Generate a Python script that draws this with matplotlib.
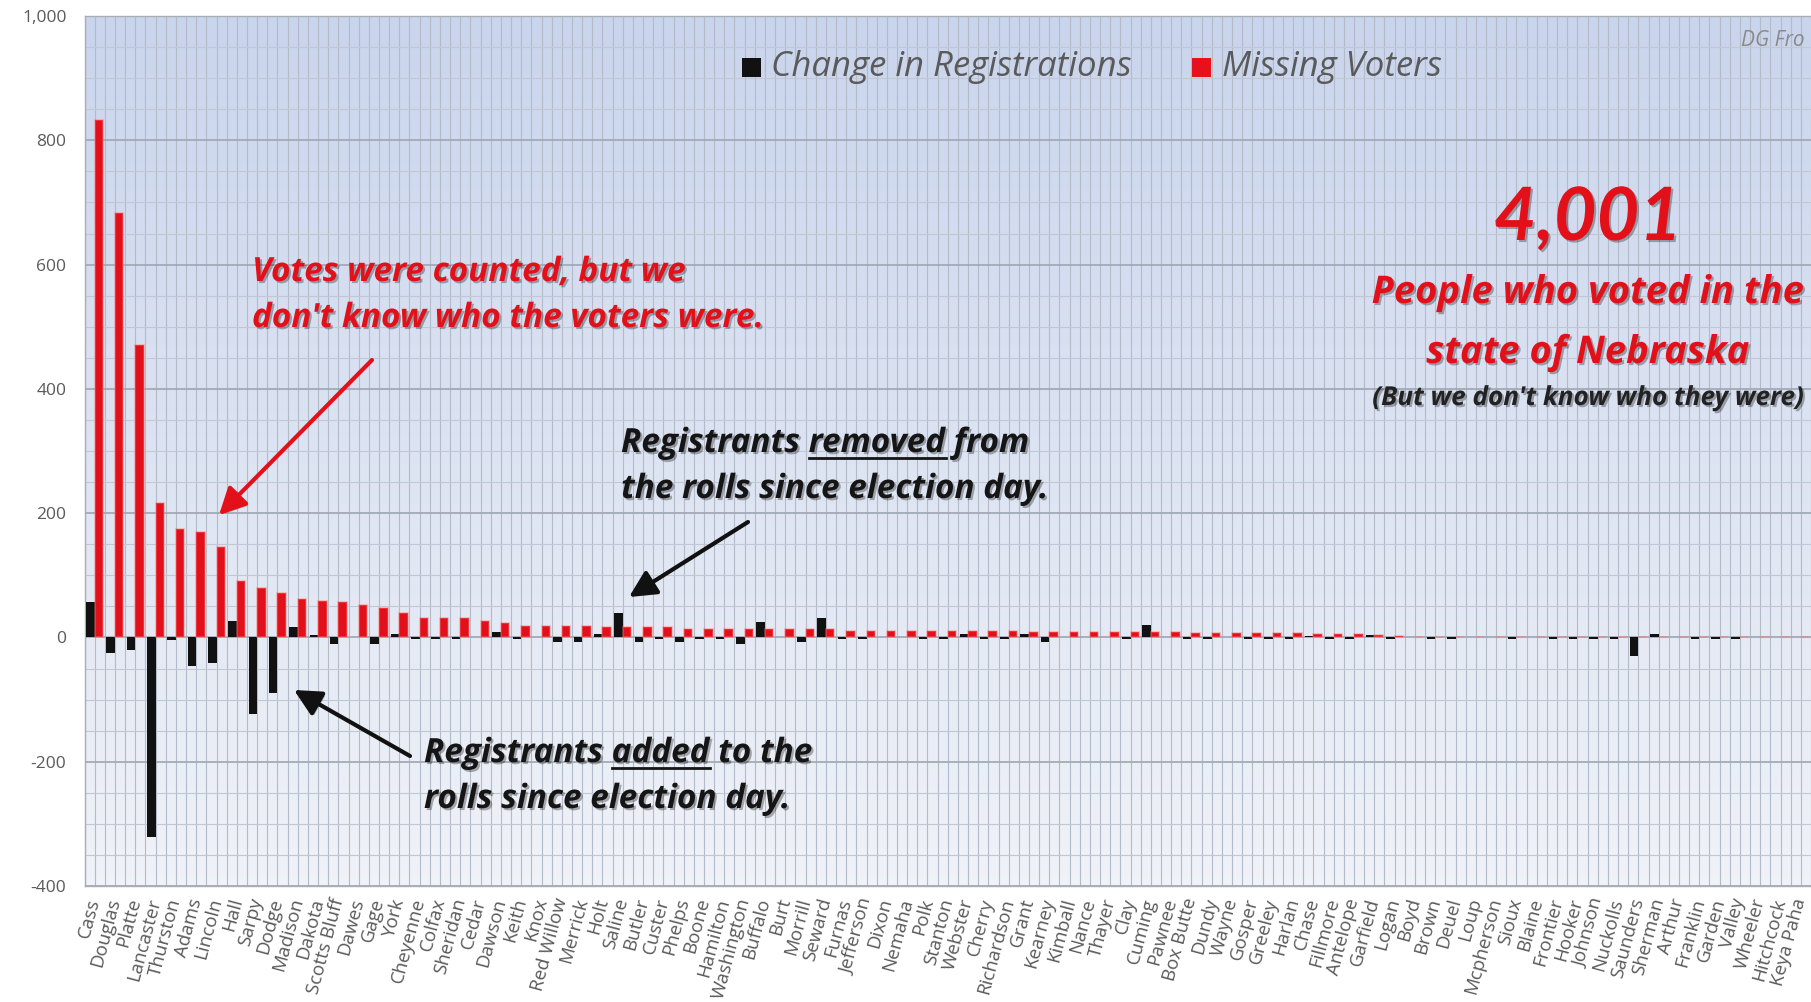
import numpy as np
import matplotlib
matplotlib.use("Agg")
import matplotlib.pyplot as plt
from matplotlib.patches import Rectangle
from matplotlib.lines import Line2D
from matplotlib.ticker import MultipleLocator, FuncFormatter
import matplotlib.patheffects as pe

counties = ["Cass", "Douglas", "Platte", "Lancaster", "Thurston", "Adams", "Lincoln", "Hall", "Sarpy", "Dodge",
            "Madison", "Dakota", "Scotts Bluff", "Dawes", "Gage", "York", "Cheyenne", "Colfax", "Sheridan", "Cedar",
            "Dawson", "Keith", "Knox", "Red Willow", "Merrick", "Holt", "Saline", "Butler", "Custer", "Phelps",
            "Boone", "Hamilton", "Washington", "Buffalo", "Burt", "Morrill", "Seward", "Furnas", "Jefferson", "Dixon",
            "Nemaha", "Polk", "Stanton", "Webster", "Cherry", "Richardson", "Grant", "Kearney", "Kimball", "Nance",
            "Thayer", "Clay", "Cuming", "Pawnee", "Box Butte", "Dundy", "Wayne", "Gosper", "Greeley", "Harlan",
            "Chase", "Fillmore", "Antelope", "Garfield", "Logan", "Boyd", "Brown", "Deuel", "Loup", "Mcpherson",
            "Sioux", "Blaine", "Frontier", "Hooker", "Johnson", "Nuckolls", "Saunders", "Sherman", "Arthur", "Franklin",
            "Garden", "Valley", "Wheeler", "Hitchcock", "Keya Paha"]

missing_voters = [832, 683, 471, 216, 174, 169, 146, 91, 79, 71,
                  62, 59, 57, 52, 48, 39, 31, 31, 31, 26,
                  23, 19, 19, 19, 18, 17, 17, 17, 16, 14,
                  14, 14, 14, 14, 14, 14, 13, 11, 11, 11,
                  11, 11, 11, 11, 11, 11, 9, 9, 9, 9,
                  9, 9, 9, 9, 7, 7, 7, 7, 7, 7,
                  6, 6, 5, 4, 3, 0, 0, 0, 0, 0,
                  0, 0, 0, 0, 0, 0, 0, 0, 0, 0,
                  0, 0, 0, 0, 0]

change_in_registrations = [57, -25, -20, -321, -4, -46, -41, 27, -124, -89,
                           16, 4, -11, 0, -11, 6, -3, -3, -3, 0,
                           9, -3, 0, -7, -7, 5, 39, -7, -3, -7,
                           -3, -3, -11, 25, 0, -7, 31, -3, -3, 0,
                           0, -3, -3, 6, -3, -3, 5, -7, 0, 0,
                           0, -3, 20, 0, -3, -3, 0, -3, -3, -3,
                           2, -3, -3, 4, -3, 0, -2, -2, 0, 0,
                           -2, 0, -2, -2, -2, -2, -30, 5, 0, -2,
                           -2, -2, 0, 0, 0]

y_ticks = [-400, -200, 0, 200, 400, 600, 800, 1000]
legend_labels = ["Change in Registrations", "Missing Voters"]
total_missing = "4,001"

W, H = 1811, 1002
fig = plt.figure(figsize=(W / 100, H / 100), dpi=100)
fig.patch.set_facecolor("white")

ax_left, ax_top, ax_bottom = 84.5, 16, 886
ax = fig.add_axes([ax_left / W, 1 - ax_bottom / H, 1 - ax_left / W, (ax_bottom - ax_top) / H])

# background gradient
top_c = np.array([0.79, 0.835, 0.93])
bot_c = np.array([0.94, 0.95, 0.97])
t = np.linspace(0, 1, 256)[:, None, None]
grad = top_c[None, None, :] * (1 - t) + bot_c[None, None, :] * t
ax.imshow(grad, extent=[0, 1, 0, 1], transform=ax.transAxes, aspect="auto", zorder=0)

x = np.arange(len(counties))
bw = 0.42
ax.bar(x - bw / 2, change_in_registrations, width=bw, color="#111111", zorder=3)
ax.bar(x + bw / 2, missing_voters, width=bw, color="#e2101a", edgecolor=(1.0, 0.45, 0.45, 0.45),
       linewidth=1.2, zorder=3)

ax.set_xlim(-0.5, len(counties) - 0.5)
ax.set_ylim(-400, 1000)
ax.set_yticks(y_ticks)
ax.yaxis.set_major_formatter(FuncFormatter(lambda v, p: f"{int(v):,}"))
ax.yaxis.set_minor_locator(MultipleLocator(50))
ax.set_xticks(x)
ax.set_xticklabels(counties, rotation=75, ha="right", va="center", rotation_mode="anchor",
                   fontsize=13.5, color="#5a5a5a", family="Open Sans")
ax.xaxis.set_minor_locator(MultipleLocator(0.5))
for lbl in ax.get_yticklabels():
    lbl.set_family("Open Sans")
    lbl.set_fontsize(12.5)
    lbl.set_color("#5a5a5a")
ax.tick_params(which="both", length=0)
ax.tick_params(axis="y", pad=13)
ax.tick_params(axis="x", pad=9)

ax.grid(which="both", axis="x", color="#b3bac8", lw=0.8, zorder=1)
ax.grid(which="minor", axis="y", color="#c2c8d3", lw=0.8, zorder=1)
ax.grid(which="major", axis="y", color="#9ea5b2", lw=1.2, zorder=1)
ax.set_axisbelow(True)
for s in ["top", "left", "bottom"]:
    ax.spines[s].set_color("#a9adb5")
    ax.spines[s].set_linewidth(1.0)
ax.spines["right"].set_visible(False)


def fy(y):
    return 1 - y / H


# legend (manual)
fig.add_artist(Rectangle((742 / W, fy(77)), 19 / W, 19 / H, transform=fig.transFigure,
                         facecolor="#111111", edgecolor="none"))
fig.text(771 / W, fy(67), legend_labels[0], fontsize=25, style="italic", color="#5a5a5a",
         va="center", ha="left", family="Open Sans")
fig.add_artist(Rectangle((1192 / W, fy(77)), 19 / W, 19 / H, transform=fig.transFigure,
                         facecolor="#e8101a", edgecolor="none"))
fig.text(1222 / W, fy(67), legend_labels[1], fontsize=25, style="italic", color="#5a5a5a",
         va="center", ha="left", family="Open Sans")

fig.text(1741 / W, fy(40), "DG Fro", fontsize=15, style="italic", color="#8a8a8a",
         va="center", ha="left", family="Open Sans")

shadow = [pe.withSimplePatchShadow(offset=(1.5, -1.5), shadow_rgbFace="black", alpha=0.3)]
ann_kw = dict(family="Open Sans", weight="bold", style="italic", path_effects=shadow)

# right block
cx = 1588 / W
fig.text(cx, fy(240), total_missing, fontsize=53, color="#e3101a", ha="center", va="baseline",
         family="Lato", weight="bold", style="italic", path_effects=shadow)
fig.text(cx, fy(303), "People who voted in the", fontsize=27.5, color="#e3101a", ha="center",
         va="baseline", **ann_kw)
fig.text(cx, fy(363), "state of Nebraska", fontsize=27.5, color="#e3101a", ha="center", va="baseline",
         **ann_kw)
fig.text(cx, fy(405), "(But we don't know who they were)", fontsize=18.8, color="#222222", ha="center",
         va="baseline", **ann_kw)

AS = 24  # annotation font size

# left red annotation
fig.text(252 / W, fy(281), "Votes were counted, but we", fontsize=AS, color="#e3101a", ha="left",
         va="baseline", **ann_kw)
fig.text(252 / W, fy(327), "don't know who the voters were.", fontsize=AS, color="#e3101a", ha="left",
         va="baseline", **ann_kw)

renderer = fig.canvas.get_renderer()


def text_width(s, size):
    tt = fig.text(0, 0, s, fontsize=size, family="Open Sans", weight="bold", style="italic")
    w = tt.get_window_extent(renderer).width
    tt.remove()
    return w


def underlined_line(x0, yb, prefix, word, rest, size, color):
    fig.text(x0 / W, fy(yb), prefix + word + rest, fontsize=size, color=color, ha="left",
             va="baseline", **ann_kw)
    w_full = text_width(prefix + word, size)
    w_word = text_width(word, size)
    xs = x0 + w_full - w_word
    xe = x0 + w_full
    yl = yb + 6
    fig.add_artist(Line2D([xs / W, xe / W], [fy(yl), fy(yl)], transform=fig.transFigure,
                          color=color, lw=2.0))


underlined_line(621, 452, "Registrants ", "removed", " from", AS, "#151515")
fig.text(621 / W, fy(498), "the rolls since election day.", fontsize=AS, color="#151515", ha="left",
         va="baseline", **ann_kw)
underlined_line(424, 762, "Registrants ", "added", " to the", AS, "#151515")
fig.text(424 / W, fy(808), "rolls since election day.", fontsize=AS, color="#151515", ha="left",
         va="baseline", **ann_kw)


def arrow(x0, y0, x1, y1, color):
    ax.annotate("", xy=(x1, H - y1), xytext=(x0, H - y0), xycoords="figure pixels",
                textcoords="figure pixels",
                arrowprops=dict(arrowstyle="-|>,head_length=0.9,head_width=0.45", lw=3, color=color,
                                shrinkA=0, shrinkB=0, mutation_scale=18,
                                path_effects=[pe.withSimplePatchShadow(offset=(1.5, -1.5), alpha=0.3)]),
                zorder=6)


arrow(372, 360, 219, 515, "#e3101a")
arrow(748, 522, 629, 597, "#111111")
arrow(410, 756, 294, 690, "#111111")

fig.savefig("out.png", dpi=100)
